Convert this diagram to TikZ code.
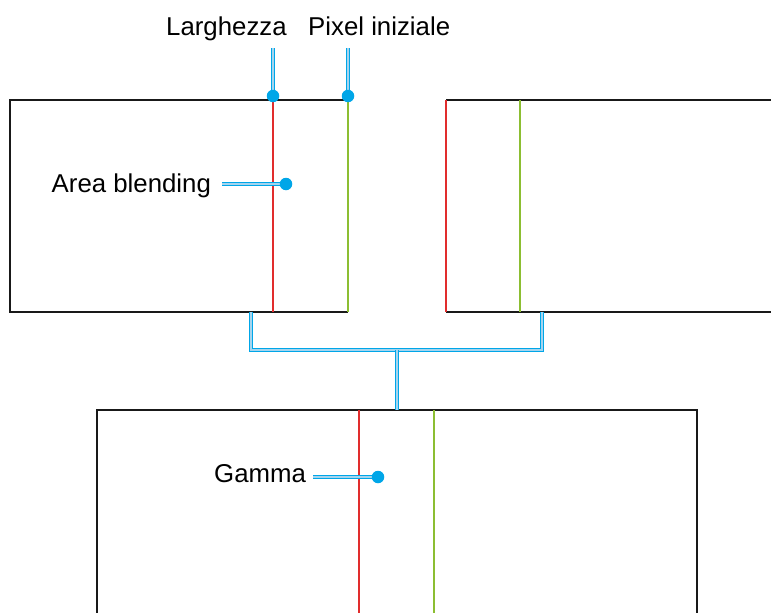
\documentclass[tikz,border=0pt]{standalone}
\usepackage{fontspec}
\setmainfont{Liberation Sans}
\definecolor{cblue}{RGB}{0,166,232}
\definecolor{cinner}{RGB}{165,212,238}
\definecolor{cred}{RGB}{225,45,45}
\definecolor{cgreen}{RGB}{140,190,50}
\begin{document}
\begin{tikzpicture}[x=1pt,y=-1pt,
  frame/.style={draw=black!90,line width=1.4pt},
  redl/.style={draw=cred,line width=1.6pt},
  greenl/.style={draw=cgreen,line width=1.6pt},
  callout/.style={draw=cinner,line width=1.8pt,
     preaction={draw=cblue,line width=4.4pt}},
  dot/.style={circle,fill=cblue,inner sep=0pt,minimum size=12.5pt},
  lbl/.style={font=\fontsize{25.8}{30}\selectfont,inner sep=0pt,anchor=base west}]
\useasboundingbox (0,0) rectangle (771,613);
% top-left box
\draw[frame] (348,100) -- (10,100) -- (10,312) -- (348,312);
\draw[redl] (273,100) -- (273,312);
\draw[greenl] (348,100) -- (348,312);
% top-right box
\draw[frame] (771,100) -- (446,100);
\draw[frame] (446,312) -- (771,312);
\draw[redl] (446,100) -- (446,312);
\draw[greenl] (520,100) -- (520,312);
% bottom box
\draw[frame] (97,614) -- (97,410) -- (697,410) -- (697,614);
\draw[redl] (359,410) -- (359,614);
\draw[greenl] (434,410) -- (434,614);
% bracket
\coordinate (bl) at (251,312);
\coordinate (br) at (542,312);
\coordinate (bm) at (397,350);
\coordinate (bb) at (397,410);
\draw[callout] (bl) -- (251,350) -- (542,350) -- (br);
\draw[callout] (bm) -- (bb);
% labels
\node[lbl] (larg) at (166,35) {Larghezza};
\node[lbl] (pix) at (308,35) {Pixel iniziale};
\node[lbl] (area) at (51.5,192) {Area blending};
\node[lbl] (gam) at (214,482) {Gamma};
% dots
\coordinate (t1) at (273,48);
\coordinate (t2) at (348,48);
\coordinate (t3) at (222,184);
\coordinate (t4) at (313,477);
\coordinate (p1) at (273,96);
\coordinate (p2) at (348,96);
\coordinate (p3) at (286,184);
\coordinate (p4) at (378,477);
\draw[callout] (t1) -- (p1);
\draw[callout] (t2) -- (p2);
\draw[callout] (t3) -- (p3);
\draw[callout] (t4) -- (p4);
\node[dot] (d1) at (p1) {};
\node[dot] (d2) at (p2) {};
\node[dot] (d3) at (p3) {};
\node[dot] (d4) at (p4) {};
\end{tikzpicture}
\end{document}
